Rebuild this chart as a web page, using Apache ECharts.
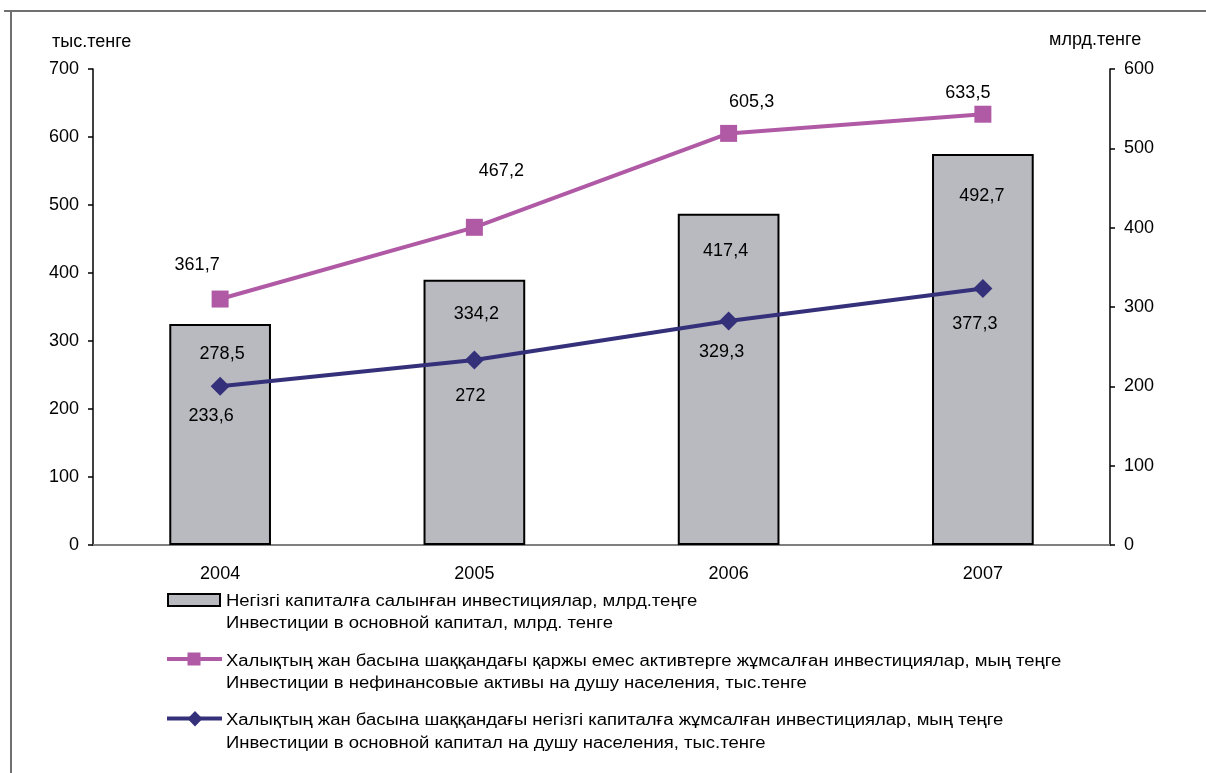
<!DOCTYPE html>
<html>
<head>
<meta charset="utf-8">
<script src="https://cdn.jsdelivr.net/npm/echarts@6/dist/echarts.min.js"></script>
<style>
html,body{margin:0;padding:0;background:#fff;}
#c{width:1206px;height:773px;}
</style>
</head>
<body>
<div id="c"></div>
<script>
// ---- data ----
var years = ['2004', '2005', '2006', '2007'];
var capitalInvest = [278.5, 334.2, 417.4, 492.7];        // млрд. тенге (right axis)
var nonFinPerCapita = [361.7, 467.2, 605.3, 633.5];      // тыс. тенге (left axis)
var capitalPerCapita = [233.6, 272, 329.3, 377.3];       // тыс. тенге (left axis)
var leftTicks = {min: 0, max: 700, interval: 100};
var rightTicks = {min: 0, max: 600, interval: 100};
var seriesNames = [
  ['Негізгі капиталға салынған инвестициялар, млрд.теңге', 'Инвестиции в основной капитал, млрд. тенге'],
  ['Халықтың жан басына шаққандағы қаржы емес активтерге жұмсалған инвестициялар, мың теңге', 'Инвестиции в нефинансовые активы на душу населения, тыс.тенге'],
  ['Халықтың жан басына шаққандағы негізгі капиталға жұмсалған инвестициялар, мың теңге', 'Инвестиции в основной капитал на душу населения, тыс.тенге']
];
var leftUnit = 'тыс.тенге';
var rightUnit = 'млрд.тенге';

// ---- styling (label placement, as in the original) ----
var barLabelOffsets = [[2, 30], [2, 34], [-3, 37], [-1, 42]];
var pinkLabelOffsets = [[-23, -34], [27, -56], [23, -31], [-15, -21]];
var navyLabelOffsets = [[-9, 30], [-4, 36], [-7, 31], [-8, 36]];

var FONT = '"Liberation Sans", Arial, sans-serif';
var PINK = '#B05AA6';
var NAVY = '#35307A';
var BARFILL = '#B9BABF';
var FS = 18;

function fmt(p) { return String(p.value).replace('.', ','); }
function withOffsets(vals, offs) {
  return vals.map(function (v, i) { return {value: v, label: {offset: offs[i]}}; });
}

var chart = echarts.init(document.getElementById('c'), null, {renderer: 'canvas'});

var legendText = [];
var legendMid = [601.5, 661.5, 721];
seriesNames.forEach(function (pair, k) {
  pair.forEach(function (t, j) {
    legendText.push({
      type: 'text', x: 226, y: legendMid[k] + j * 22.5, scaleX: 1.155,
      style: {text: t, x: 0, y: 0, verticalAlign: 'middle', align: 'left',
        fontSize: 16, fontFamily: FONT, fill: '#000'}
    });
  });
});

var option = {
  backgroundColor: '#fff',
  animation: false,
  textStyle: {fontFamily: FONT},
  grid: {left: 93, right: 96, top: 69, bottom: 228, containLabel: false},
  xAxis: [{
    type: 'category', data: years, position: 'bottom',
    axisLine: {lineStyle: {color: '#000', width: 1.5}},
    axisTick: {show: false},
    axisLabel: {color: '#000', fontSize: FS, fontFamily: FONT, margin: 20}
  }, {
    type: 'category', data: years, position: 'top',
    axisLine: {lineStyle: {color: '#808080', width: 2}},
    axisTick: {show: false}, axisLabel: {show: false}
  }],
  yAxis: [{
    type: 'value', position: 'left',
    min: leftTicks.min, max: leftTicks.max, interval: leftTicks.interval,
    axisLine: {show: true, lineStyle: {color: '#000', width: 1.5}},
    axisTick: {show: true, length: 5, lineStyle: {color: '#000', width: 1.5}},
    splitLine: {show: false},
    axisLabel: {color: '#000', fontSize: FS, fontFamily: FONT, margin: 14}
  }, {
    type: 'value', position: 'right',
    min: rightTicks.min, max: rightTicks.max, interval: rightTicks.interval,
    axisLine: {show: true, lineStyle: {color: '#000', width: 1.5}},
    axisTick: {show: true, length: 5, lineStyle: {color: '#000', width: 1.5}},
    splitLine: {show: false},
    axisLabel: {color: '#000', fontSize: FS, fontFamily: FONT, margin: 14}
  }],
  series: [{
    name: seriesNames[0][1], type: 'bar', yAxisIndex: 1, barWidth: '40%',
    data: withOffsets(capitalInvest, barLabelOffsets),
    itemStyle: {color: BARFILL, borderColor: '#000', borderWidth: 2},
    label: {show: true, position: ['50%', 0], align: 'center', verticalAlign: 'middle',
      color: '#000', fontSize: FS, fontFamily: FONT, formatter: fmt},
    z: 2
  }, {
    name: seriesNames[1][1], type: 'line', yAxisIndex: 0,
    data: withOffsets(nonFinPerCapita, pinkLabelOffsets),
    symbol: 'rect', symbolSize: 17, showAllSymbol: true,
    lineStyle: {color: PINK, width: 4}, itemStyle: {color: PINK},
    label: {show: true, position: 'inside', color: '#000', fontSize: FS, fontFamily: FONT, formatter: fmt},
    z: 3
  }, {
    name: seriesNames[2][1], type: 'line', yAxisIndex: 0,
    data: withOffsets(capitalPerCapita, navyLabelOffsets),
    symbol: 'diamond', symbolSize: [19, 19], showAllSymbol: true,
    lineStyle: {color: NAVY, width: 4}, itemStyle: {color: NAVY},
    label: {show: true, position: 'inside', color: '#000', fontSize: FS, fontFamily: FONT, formatter: fmt},
    z: 3
  }],
  graphic: [
    // outer frame
    {type: 'polyline', shape: {points: [[4, 11], [1206, 11]]}, style: {stroke: '#707070', lineWidth: 2, fill: null}},
    {type: 'polyline', shape: {points: [[11, 11], [11, 773]]}, style: {stroke: '#707070', lineWidth: 2, fill: null}},
    // axis units
    {type: 'text', x: 52, y: 42, style: {text: leftUnit, x: 0, y: 0, verticalAlign: 'middle', fontSize: FS, fontFamily: FONT, fill: '#000'}},
    {type: 'text', x: 1049, y: 40, style: {text: rightUnit, x: 0, y: 0, verticalAlign: 'middle', fontSize: FS, fontFamily: FONT, fill: '#000'}},
    // legend symbols
    {type: 'rect', shape: {x: 168, y: 594, width: 52, height: 12}, style: {fill: BARFILL, stroke: '#000', lineWidth: 2}},
    {type: 'line', shape: {x1: 167, y1: 659, x2: 222, y2: 659}, style: {stroke: PINK, lineWidth: 4}},
    {type: 'rect', shape: {x: 187.5, y: 652.5, width: 13, height: 13}, style: {fill: PINK}},
    {type: 'line', shape: {x1: 167, y1: 718.5, x2: 222, y2: 718.5}, style: {stroke: NAVY, lineWidth: 4}},
    {type: 'polygon', shape: {points: [[187.5, 718.7], [195, 711], [202.5, 718.7], [195, 726.4]]}, style: {fill: NAVY}}
  ].concat(legendText)
};
chart.setOption(option);
</script>
</body>
</html>
